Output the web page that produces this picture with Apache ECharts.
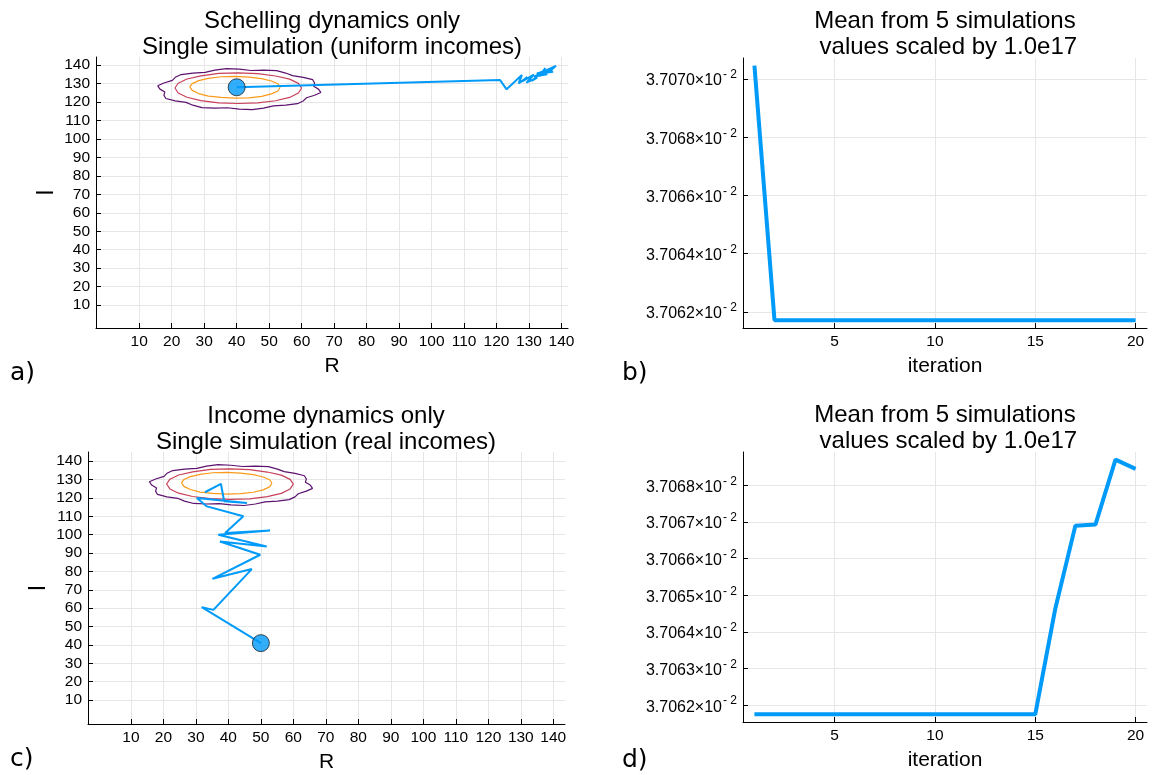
<!DOCTYPE html>
<html><head><meta charset="utf-8">
<script src="https://cdn.jsdelivr.net/npm/echarts@6/dist/echarts.min.js"></script>
<style>html,body{margin:0;padding:0;background:#fff}#c{width:1158px;height:775px}</style>
</head><body><div id="c"></div>
<script>
// ---------- data ----------
const ticksRI = [10,20,30,40,50,60,70,80,90,100,110,120,130,140];
const iterTicks = [5,10,15,20];
const ticksB = [3.7062,3.7064,3.7066,3.7068,3.7070];
const ticksD = [3.7062,3.7063,3.7064,3.7065,3.7066,3.7067,3.7068];
const iterations = [1,2,3,4,5,6,7,8,9,10,11,12,13,14,15,16,17,18,19,20];
const meanB = [3.707046,3.706172,3.706172,3.706172,3.706172,3.706172,3.706172,3.706172,3.706172,3.706172,
               3.706172,3.706172,3.706172,3.706172,3.706172,3.706172,3.706172,3.706172,3.706172,3.706172];
const meanD = [3.706175,3.706175,3.706175,3.706175,3.706175,3.706175,3.706175,3.706175,3.706175,3.706175,
               3.706175,3.706175,3.706175,3.706175,3.706175,3.706464,3.706690,3.706693,3.706870,3.706845];

const contourOrange = [[53.4,128.0],[52.7,129.9],[50.7,131.4],[47.7,132.7],[43.8,133.5],[39.5,133.9],[35.2,133.7],[31.3,132.8],[28.3,131.6],[26.3,130.0],[25.6,128.3],[26.3,126.3],[28.3,124.6],[31.3,123.2],[35.2,122.5],[39.5,122.1],[43.8,122.3],[47.7,123.1],[50.7,124.4],[52.7,126.0],[53.4,128.0]];
const contourRed = [[60.0,127.5],[59.0,130.1],[56.3,132.4],[52.0,134.1],[46.5,135.4],[40.5,135.8],[34.5,135.5],[29.0,134.2],[24.7,132.5],[22.0,130.2],[21.0,127.6],[22.0,124.9],[24.7,122.6],[29.0,120.8],[34.5,119.6],[40.5,119.2],[46.5,119.5],[52.0,120.7],[56.3,122.5],[59.0,124.9],[60.0,127.5]];
const contourPurple = [[65.2,127.0],[63.7,128.6],[64.0,130.3],[63.4,132.1],[60.5,133.4],[57.2,134.3],[55.1,135.7],[52.3,137.0],[48.3,137.3],[44.4,137.1],[40.8,137.8],[36.8,138.1],[33.3,137.3],[30.3,136.1],[26.5,135.7],[22.9,134.9],[21.1,133.4],[20.2,131.7],[17.6,130.3],[15.7,128.8],[16.4,127.0],[17.9,125.4],[17.6,123.7],[18.2,121.9],[21.1,120.6],[24.4,119.8],[26.5,118.3],[29.3,117.0],[33.3,116.7],[37.2,116.9],[40.8,116.2],[44.8,115.9],[48.3,116.7],[51.3,117.9],[55.1,118.3],[58.7,119.1],[60.5,120.6],[61.5,122.3],[64.0,123.7],[65.9,125.2],[65.2,127.0]];

const trajA = [[40,128],[121.1,131.9],[123.1,126.9],[127.8,134.6],[126.8,130.1],[129.5,133.5],[127.9,131.2],[131.5,134.8],[129.2,130.5],[132.5,133.2],[130.8,131.5],[134.2,136.2],[131.6,133.8],[135.6,135.0],[132.4,135.4],[136.2,137.8],[133.2,134.0],[135.0,138.4],[134.1,135.6],[137.4,136.4],[135.2,137.2],[138.3,139.6],[136.0,136.0],[137.0,138.8]];
const pointA = [[40,128]];
const trajC = [[50,41],[31.8,60.6],[35.4,59.1],[47.2,81.3],[35.1,76.0],[49.8,89.1],[37.4,96.3],[51.8,93.6],[36.9,100.0],[52.8,102.3],[39.0,100.9],[44.6,110.0],[33.4,115.4],[30.3,120.0],[45.7,117.3],[38.7,118.2],[37.7,127.7],[32.8,123.1]];
const pointC = [[50,41]];

const titleA = 'Schelling dynamics only\nSingle simulation (uniform incomes)';
const titleB = 'Mean from 5 simulations\n values scaled by 1.0e17';
const titleC = 'Income dynamics only\nSingle simulation (real incomes)';
const titleD = 'Mean from 5 simulations\n values scaled by 1.0e17';

// ---------- styling ----------
const FONT = '"Liberation Sans", Arial, Helvetica, sans-serif';
const BLUE = '#009af9';
const C_OR = '#fb9a1a', C_RED = '#c8405a', C_PUR = '#5c126e';

function axisCommon(ticks, fmt) {
  return {
    type: 'value',
    axisLine: {show: true, onZero: false, lineStyle: {color: '#000', width: 1}},
    axisTick: {show: true, inside: true, length: 5, lineStyle: {color: '#000'}, customValues: ticks},
    splitLine: {show: true, lineStyle: {color: '#e6e6e6', width: 1}},
    axisLabel: {color: '#000', fontSize: 15.5, fontFamily: FONT, margin: 6, customValues: ticks, formatter: fmt},
    nameTextStyle: {color: '#000', fontSize: 21, fontFamily: FONT}
  };
}
const supFmt = v => '{m|' + v.toFixed(4) + '×10}{s|- 2}';
const supRich = {
  m: {fontSize: 16, fontFamily: FONT, color: '#000', lineHeight: 20, verticalAlign: 'bottom'},
  s: {fontSize: 12, fontFamily: FONT, color: '#000', lineHeight: 11, verticalAlign: 'top', padding: [0,0,0,1]}
};

function xA(grid, min, max, ticks, name) {
  return Object.assign(axisCommon(ticks, v => String(v)), {gridIndex: grid, min, max, name, nameLocation: 'middle', nameGap: 28});
}
function yA(grid, min, max, ticks, name, fmt) {
  const a = Object.assign(axisCommon(ticks, fmt || (v => String(v))), {gridIndex: grid, min, max});
  if (name) { a.name = name; a.nameLocation = 'middle'; a.nameGap = 38; a.nameRotate = 90;
              a.nameTextStyle = {color: '#000', fontSize: 23, fontFamily: FONT}; }
  if (fmt) { a.axisLabel.rich = supRich; }
  return a;
}
function lineS(x, y, data, color, width, z) {
  return {type: 'line', xAxisIndex: x, yAxisIndex: y, data, showSymbol: false, symbol: 'none',
          lineStyle: {color, width}, itemStyle: {color}, silent: true, z: z || 2, animation: false, clip: true};
}
function ptS(x, y, data) {
  return {type: 'scatter', xAxisIndex: x, yAxisIndex: y, data, symbolSize: 17,
          itemStyle: {color: BLUE, borderColor: '#222', borderWidth: 1}, z: 5, animation: false, silent: true};
}
function titleT(text, cx, top) {
  return {text, left: cx, top, textAlign: 'center', padding: 0,
          textStyle: {fontSize: 24, lineHeight: 26, fontWeight: 'normal', fontFamily: FONT, color: '#000'}};
}
function panelT(text, left, top) {
  return {text, left, top, padding: 0,
          textStyle: {fontSize: 25, fontWeight: 'normal', fontFamily: '"DejaVu Sans", sans-serif', color: '#000'}};
}

const chart = echarts.init(document.getElementById('c'), null, {renderer: 'canvas'});
chart.setOption({
  animation: false,
  backgroundColor: '#fff',
  title: [
    titleT(titleA, 332, 8), titleT(titleB, 945, 8), titleT(titleC, 326, 403), titleT(titleD, 945, 402),
    panelT('a)', 10, 361), panelT('b)', 622, 361), panelT('c)', 10, 747), panelT('d)', 622, 748)
  ],
  grid: [
    {left: 96, top: 57, width: 472, height: 271},
    {left: 743, top: 58, width: 404, height: 270},
    {left: 88, top: 452, width: 477, height: 272},
    {left: 743, top: 452, width: 404, height: 270}
  ],
  xAxis: [
    xA(0, -3.3, 142, ticksRI, 'R'),
    xA(1, 0.43, 20.57, iterTicks, 'iteration'),
    xA(2, -3.2, 143.6, ticksRI, 'R'),
    xA(3, 0.43, 20.57, iterTicks, 'iteration')
  ],
  yAxis: [
    yA(0, -2.4, 144.4, ticksRI, 'I'),
    yA(1, 3.706145, 3.707072, ticksB, null, supFmt),
    yA(2, -3, 145, ticksRI, 'I'),
    yA(3, 3.706154, 3.706891, ticksD, null, supFmt)
  ],
  series: [
    lineS(0, 0, contourPurple, C_PUR, 1.2),
    lineS(0, 0, contourRed, C_RED, 1.2),
    lineS(0, 0, contourOrange, C_OR, 1.2),
    lineS(0, 0, trajA, BLUE, 2, 3),
    ptS(0, 0, pointA),
    lineS(1, 1, iterations.map((x, i) => [x, meanB[i]]), BLUE, 4, 3),
    lineS(2, 2, contourPurple, C_PUR, 1.2),
    lineS(2, 2, contourRed, C_RED, 1.2),
    lineS(2, 2, contourOrange, C_OR, 1.2),
    lineS(2, 2, trajC, BLUE, 2, 3),
    ptS(2, 2, pointC),
    lineS(3, 3, iterations.map((x, i) => [x, meanD[i]]), BLUE, 4, 3)
  ]
});
</script></body></html>
